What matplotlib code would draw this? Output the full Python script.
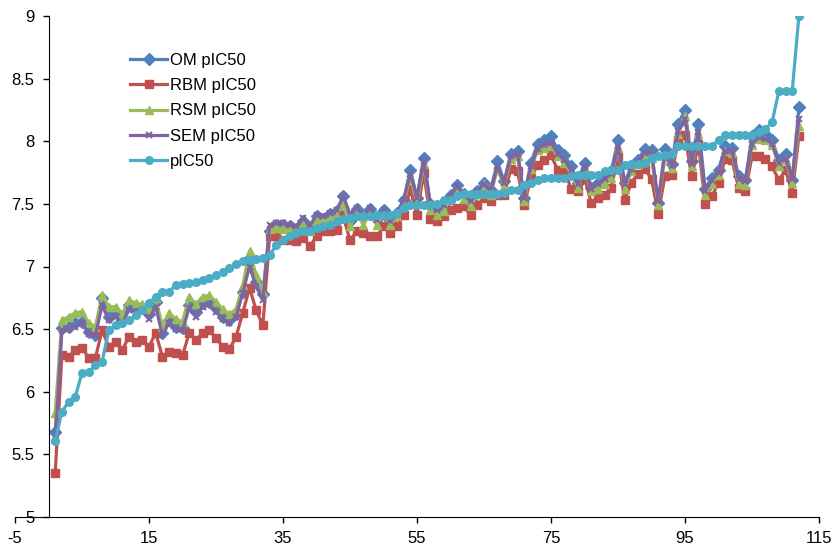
import numpy as np
import matplotlib
matplotlib.use("Agg")
import matplotlib.pyplot as plt

plt.rcParams["font.family"] = ["Liberation Sans", "DejaVu Sans"]
plt.rcParams["axes.unicode_minus"] = False

# compound index (x) and the five series
compound = np.arange(1, 113)

om = [5.68, 6.51, 6.52, 6.55, 6.56, 6.48, 6.45, 6.75, 6.60, 6.64,
      6.57, 6.69, 6.67, 6.67, 6.62, 6.72, 6.47, 6.57, 6.52, 6.51,
      6.69, 6.64, 6.71, 6.72, 6.67, 6.60, 6.57, 6.62, 6.80, 7.07,
      6.88, 6.78, 7.28, 7.33, 7.33, 7.32, 7.30, 7.36, 7.30, 7.40,
      7.38, 7.42, 7.44, 7.56, 7.36, 7.46, 7.40, 7.46, 7.38, 7.45,
      7.37, 7.43, 7.53, 7.77, 7.55, 7.87, 7.50, 7.46, 7.50, 7.57,
      7.65, 7.58, 7.53, 7.60, 7.67, 7.61, 7.84, 7.68, 7.90, 7.92,
      7.55, 7.83, 7.98, 8.01, 8.04, 7.93, 7.89, 7.80, 7.67, 7.83,
      7.63, 7.67, 7.71, 7.76, 8.01, 7.67, 7.80, 7.85, 7.94, 7.93,
      7.51, 7.94, 7.82, 8.14, 8.25, 7.84, 8.14, 7.62, 7.71, 7.77,
      7.96, 7.95, 7.72, 7.69, 8.04, 8.09, 8.06, 8.01, 7.85, 7.90,
      7.69, 8.27]

rbm = [5.35, 6.29, 6.28, 6.33, 6.35, 6.27, 6.27, 6.49, 6.36, 6.40,
       6.33, 6.44, 6.40, 6.41, 6.36, 6.47, 6.28, 6.32, 6.31, 6.29,
       6.47, 6.41, 6.47, 6.49, 6.43, 6.36, 6.34, 6.44, 6.63, 6.83,
       6.65, 6.53, 7.24, 7.24, 7.21, 7.21, 7.20, 7.23, 7.16, 7.24,
       7.28, 7.28, 7.29, 7.40, 7.21, 7.28, 7.27, 7.24, 7.24, 7.32,
       7.27, 7.32, 7.41, 7.62, 7.41, 7.75, 7.38, 7.36, 7.40, 7.45,
       7.47, 7.48, 7.41, 7.49, 7.55, 7.52, 7.57, 7.57, 7.78, 7.76,
       7.49, 7.71, 7.81, 7.85, 7.89, 7.77, 7.77, 7.62, 7.60, 7.71,
       7.51, 7.55, 7.57, 7.63, 7.88, 7.53, 7.67, 7.74, 7.78, 7.70,
       7.42, 7.72, 7.73, 8.01, 8.05, 7.72, 7.98, 7.50, 7.56, 7.67,
       7.86, 7.85, 7.63, 7.60, 7.88, 7.88, 7.86, 7.80, 7.69, 7.77,
       7.59, 8.04]

rsm = [5.83, 6.57, 6.60, 6.63, 6.64, 6.55, 6.52, 6.77, 6.68, 6.68,
       6.62, 6.73, 6.71, 6.70, 6.66, 6.75, 6.52, 6.63, 6.58, 6.56,
       6.76, 6.70, 6.76, 6.77, 6.72, 6.66, 6.62, 6.66, 6.85, 7.12,
       6.93, 6.80, 7.30, 7.31, 7.30, 7.29, 7.28, 7.33, 7.28, 7.36,
       7.36, 7.38, 7.40, 7.50, 7.32, 7.43, 7.33, 7.43, 7.33, 7.42,
       7.33, 7.40, 7.50, 7.72, 7.50, 7.82, 7.45, 7.41, 7.44, 7.55,
       7.63, 7.54, 7.48, 7.58, 7.66, 7.57, 7.78, 7.64, 7.86, 7.88,
       7.52, 7.78, 7.93, 7.95, 7.96, 7.88, 7.83, 7.74, 7.63, 7.79,
       7.60, 7.62, 7.66, 7.71, 7.95, 7.62, 7.76, 7.82, 7.89, 7.87,
       7.49, 7.88, 7.79, 8.06, 8.20, 7.80, 8.06, 7.57, 7.66, 7.73,
       7.92, 7.91, 7.66, 7.65, 7.97, 8.02, 8.01, 7.97, 7.80, 7.85,
       7.67, 8.12]

sem = [5.61, 6.49, 6.50, 6.52, 6.55, 6.46, 6.45, 6.69, 6.57, 6.60,
       6.55, 6.65, 6.64, 6.65, 6.58, 6.68, 6.45, 6.55, 6.50, 6.49,
       6.67, 6.60, 6.68, 6.70, 6.64, 6.58, 6.55, 6.60, 6.79, 7.00,
       6.84, 6.73, 7.33, 7.35, 7.35, 7.33, 7.32, 7.39, 7.33, 7.41,
       7.40, 7.43, 7.45, 7.56, 7.42, 7.47, 7.40, 7.47, 7.37, 7.45,
       7.36, 7.42, 7.53, 7.74, 7.55, 7.84, 7.49, 7.45, 7.49, 7.56,
       7.64, 7.57, 7.52, 7.60, 7.66, 7.60, 7.80, 7.67, 7.88, 7.90,
       7.55, 7.80, 7.94, 7.97, 7.99, 7.90, 7.85, 7.77, 7.66, 7.80,
       7.62, 7.66, 7.70, 7.74, 7.96, 7.66, 7.78, 7.83, 7.91, 7.90,
       7.52, 7.90, 7.80, 8.08, 8.18, 7.82, 8.07, 7.60, 7.69, 7.75,
       7.92, 7.92, 7.70, 7.68, 7.98, 8.03, 8.02, 7.98, 7.83, 7.86,
       7.70, 8.18]

pic50 = [5.61, 5.84, 5.92, 5.96, 6.15, 6.16, 6.21, 6.24, 6.49, 6.53,
         6.55, 6.57, 6.61, 6.65, 6.71, 6.76, 6.80, 6.80, 6.85, 6.86,
         6.87, 6.88, 6.89, 6.91, 6.93, 6.96, 6.99, 7.02, 7.04, 7.05,
         7.06, 7.07, 7.09, 7.17, 7.21, 7.24, 7.27, 7.28, 7.28, 7.31,
         7.32, 7.33, 7.36, 7.38, 7.39, 7.40, 7.40, 7.40, 7.41, 7.41,
         7.41, 7.43, 7.47, 7.49, 7.49, 7.49, 7.49, 7.50, 7.53, 7.53,
         7.56, 7.58, 7.58, 7.58, 7.58, 7.58, 7.58, 7.59, 7.61, 7.61,
         7.65, 7.67, 7.69, 7.71, 7.71, 7.71, 7.71, 7.72, 7.73, 7.73,
         7.73, 7.73, 7.76, 7.77, 7.77, 7.81, 7.82, 7.82, 7.83, 7.87,
         7.88, 7.89, 7.90, 7.96, 7.96, 7.96, 7.96, 7.96, 7.96, 8.01,
         8.05, 8.05, 8.05, 8.05, 8.05, 8.07, 8.10, 8.15, 8.40, 8.40,
         8.40, 9.00]

fig = plt.figure(figsize=(8.38, 5.49), dpi=100)
ax = fig.add_axes([15 / 838, 32 / 549, 804 / 838, 501 / 549])

lw = 2.3
ax.plot(compound, om, color="#4F81BD", lw=lw, marker="D", ms=6.5, label="OM pIC50")
ax.plot(compound, rbm, color="#C0504D", lw=lw, marker="s", ms=5.5, label="RBM pIC50")
ax.plot(compound, rsm, color="#9BBB59", lw=lw, marker="^", ms=6, label="RSM pIC50")
ax.plot(compound, sem, color="#8064A2", lw=lw, marker="x", ms=5, mew=1.5, label="SEM pIC50")
ax.plot(compound, pic50, color="#4BACC6", lw=lw, marker="o", ms=5.5, label="pIC50")

ax.set_xlim(-5, 115)
ax.set_ylim(5, 9)
ax.set_xticks(np.arange(-5, 116, 20))
ax.set_yticks(np.arange(5, 9.01, 0.5))
ax.set_yticklabels(["5", "5.5", "6", "6.5", "7", "7.5", "8", "8.5", "9"])

ax.spines["top"].set_visible(False)
ax.spines["right"].set_visible(False)
ax.spines["left"].set_position(("data", 0))
ax.tick_params(direction="out", length=4, width=1, labelsize=12, pad=6)

ax.legend(loc="upper left", bbox_to_anchor=(0.135, 0.94), frameon=False,
          fontsize=12, handlelength=2.2, handletextpad=0.2, labelspacing=0.62,
          borderaxespad=0)

fig.savefig("out.png", dpi=100)
